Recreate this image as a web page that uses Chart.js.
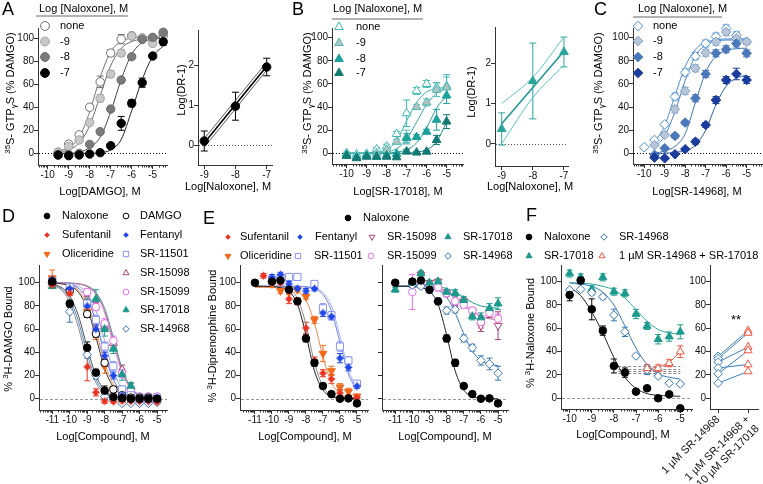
<!DOCTYPE html>
<html>
<head>
<meta charset="utf-8">
<title>Figure</title>
<script src="https://cdn.jsdelivr.net/npm/chart.js@4.4.1/dist/chart.umd.min.js"></script>
<style>
html, body { margin: 0; padding: 0; background: #fff; }
#wrap { position: relative; width: 763px; height: 484px; overflow: hidden; background: #fff; }
#wrap canvas { position: absolute; left: 0; top: 0; }
</style>
</head>
<body>
<div id="wrap"></div>
<script>
// ================= DATA =================
// shared ticks / labels
const pctTicks = [0, 20, 40, 60, 80, 100];
const drTicks = [0, 1, 2];
const logTicks10 = [-10, -9, -8, -7, -6, -5];
const logTicks11 = [-11, -10, -9, -8, -7, -6, -5];
const naloxTicks = [-9, -8, -7];
const nalLevels = ['none', '-9', '-8', '-7'];
const pairTicks = [0, 1];
const pairCats = ['1 µM SR-14968', ['1 µM SR-14968 +', '10 µM SR-17018']];
const dNamesL = ['Naloxone', 'Sufentanil', 'Oliceridine'];
const dNamesR = ['DAMGO', 'Fentanyl', 'SR-11501', 'SR-15098', 'SR-15099', 'SR-17018', 'SR-14968'];
const eNamesTop = ['Naloxone'];
const eNamesA = ['Sufentanil', 'Fentanyl', 'SR-15098', 'SR-17018'];
const eNamesB = ['Oliceridine', 'SR-11501', 'SR-15099', 'SR-14968'];
const fNames = ['Naloxone', 'SR-14968', 'SR-17018', '1 µM SR-14968 + SR-17018'];

// Panel A : DAMGO +/- naloxone
const aX = [-9.5, -9, -8.5, -8, -7.5, -7, -6.5, -6, -5.5, -5, -4.5];
const aNone = [1, 8, 16, 40, 62, 87, 99, 102, 100, 100, 102];
const aNoneErr = [1.5, 2.5, 2, 2, 5, 3, 4, 2, 2, 2, 3];
const aNal9 = [0.6, 6, 11.6, 26.6, 47.7, 68.8, 87, 101.7, 100, 95.4, 104];
const aNal9Err = [1, 1.5, 2, 2, 3, 3, 3, 2, 2, 2, 2];
const aNal8 = [-1.4, -1, 0, 7.8, 18.8, 38.4, 63.6, 83.8, 98.8, 100.6, 105];
const aNal8Err = [1, 1, 1, 1.5, 2, 2, 2, 2, 2, 2, 2];
const aNal7 = [-1.4, -2, -1.4, -0.6, 0.6, 6.6, 26, 43.4, 61.3, 84.4, 96.8];
const aNal7Err = [1, 1, 1, 1, 1, 2, 6, 3, 4, 2, 3];
const aFitNone = [2, 5, 14, 36, 66, 88, 97, 100, 101, 101, 101];
const aFit9 = [1, 3, 9, 24, 50, 76, 91, 97, 99, 100, 100];
const aFit8 = [0, 0, 1, 5, 14, 36, 64, 86, 96, 99, 100];
const aFit7 = [0, 0, 0, 0, 0.5, 3, 12, 37, 64, 84, 93];
// Panel A inset (Schild)
const aInX = [-9, -8, -7];
const aInY = [0.1, 0.97, 1.95];
const aInErr = [0.25, 0.35, 0.22];
const aInLX = [-9, -7];
const aInMid = [0.05, 1.97];
const aInHi = [0.16, 2.07];
const aInLo = [-0.06, 1.87];

// Panel B : SR-17018 +/- naloxone
const bX = [-10, -9.5, -9, -8.5, -8, -7.5, -7, -6.5, -6, -5.5, -5];
const bNone = [0, -1, -0.5, 3.5, 5.8, 16.7, 34.6, 54, 60, 57, 58];
const bNoneErr = [1, 1, 1, 1.5, 2, 2, 11.5, 3, 3, 4, 10];
const bNal9 = [-1.4, -3, -2, 0, 3, 10, 14, 40, 44, 55, 57];
const bNal9Err = [1, 1, 1, 1, 1, 2, 6, 2, 3, 6, 9];
const bNal8 = [-1.4, -3.5, -2.3, -3, -2, -0.5, 13, 14, 18.7, 29, 50];
const bNal8Err = [1, 1, 1, 1, 1, 1, 4, 2, 2, 9, 7];
const bNal7 = [-2.3, -4.3, -3, -3, -3, -3.5, 1.5, 0.6, 1.4, 11.5, 27.4];
const bNal7Err = [1, 1, 1, 1, 1, 1, 2, 1, 1, 4, 6];
const bFitNone = [0, 0, 0.2, 1, 3, 11, 28, 44, 53, 56, 57];
const bFit9 = [0, 0, 0, 0.3, 1, 4, 12, 27, 42, 52, 56];
const bFit8 = [0, 0, 0, 0, 0, 1, 3, 9, 22, 39, 50];
const bFit7 = [0, 0, 0, 0, 0, 0, 0, 1, 3, 10, 27];
// Panel B inset
const bInX = [-9, -8, -7];
const bInY = [0.37, 1.56, 2.28];
const bInErr = [0.4, 0.94, 0.37];
const bInMid = [0.5, 1.4, 2.3];
const bInHi = [1.0, 1.65, 2.65];
const bInLo = [0.0, 1.15, 1.95];

// Panel C : SR-14968 +/- naloxone
const cX = [-10, -9.5, -9, -8.5, -8, -7.5, -7, -6.5, -6, -5.5, -5];
const cNone = [5.2, 11.5, 25, 49, 70, 84, 95, 101, 108, 102, 96.5];
const cNoneErr = [1, 1, 1.5, 3, 3, 3, 3, 3, 3, 3, 2];
const cNal9 = [null, 7, 16, 38, 54, 73.5, 87, 96.5, 105, 99.4, 96.5];
const cNal9Err = [0, 1, 1.5, 3, 3, 3, 3, 3, 3, 3, 2];
const cNal8 = [null, -1.4, 4.3, 15, 26.5, 47.6, 68.6, 86.5, 90, 95, 86.5];
const cNal8Err = [0, 1, 1, 2, 2, 3, 3, 3, 3, 3, 3];
const cNal7 = [null, -3.7, -4.3, -0.9, 3.5, 10, 24.5, 46, 63.4, 68.6, 63.4];
const cNal7Err = [0, 1, 1, 1, 1, 2, 2, 3, 3, 5, 3];
const cFitNone = [null, 9, 24, 50, 75, 90, 96, 98, 99, 99, 99];
const cFit9 = [null, 5, 15, 36, 63, 84, 94, 97, 98, 98, 98];
const cFit8 = [null, 0, 2, 6, 17, 44, 70, 84, 89, 90.5, 91];
const cFit7 = [null, 0, 0, 1, 2, 7, 20, 42, 58, 65, 67.5];

// Panel D : 3H-DAMGO binding
const dX = [-11, -10, -9, -8.5, -8, -7.5, -7, -6.5, -6, -5.5, -5];
const dNal = [101, 82, 44, 22.5, 7, 1.5, 0.5, 0, 0, 0, 0];
const dNalErr = [3, 3, 5, 3, 4, 1, 1, 1, 1, 1, 1];
const dSuf = [98, 91, 27.5, 5.5, -2, -2.5, -2, -2, -2, -2, -3];
const dSufErr = [3, 2, 12, 3, 2, 1, 1, 1, 1, 1, 1];
const dOli = [104, 92, 75, 55, 28, 8, 0, -1, -1, 0, -1];
const dOliErr = [7, 3, 3, 4, 6, 3, 2, 1, 1, 1, 1];
const dDam = [100, 93, 73, 56, 31, 8, 3, 1, 1, 1, 0];
const dDamErr = [2, 2, 3, 3, 3, 2, 1, 1, 1, 1, 1];
const dFen = [103, 95, 80, 60, 37, 20, 3, -1, -2, -2, -2];
const dFenErr = [2, 2, 3, 3, 3, 3, 2, 1, 1, 1, 1];
const d11501 = [102, 96, 82, 68, 45, 28, 8, 3, 1, 1, 1];
const d11501Err = [2, 2, 3, 4, 4, 4, 3, 2, 1, 1, 1];
const d15098 = [100, 96, 85, 80, 62, 48, 25, 10, 1, 0, 0];
const d15098Err = [2, 2, 3, 3, 4, 4, 4, 3, 2, 1, 1];
const d15099 = [100, 95, 92, 79, 65, 50, 22, 7, 2, 2, 2];
const d15099Err = [2, 2, 3, 3, 4, 4, 4, 3, 2, 1, 1];
const d17018 = [97, 95, 83, 86, 60, 43, 21, 11, 0, 1, 0];
const d17018Err = [2, 2, 3, 8, 6, 4, 5, 3, 2, 1, 1];
const d14968 = [100, 75, 38, 20, 2, -1, -4, -4, -4, -4, -3];
const d14968Err = [2, 9, 3, 3, 2, 1, 1, 1, 1, 1, 1];
const dFitX = [-11, -10.5, -10, -9.5, -9, -8.5, -8, -7.5, -7, -6.5, -6, -5.5, -5];
const dFitNal = [98.8, 96.2, 88.8, 71.5, 44.3, 20, 7.4, 2.5, 0.8, 0.3, 0.1, 0, 0];
const dFitSuf = [98, 94, 83.4, 61.3, 33.4, 13.7, 4.8, 1.6, 0.5, 0.2, 0, 0, 0];
const dFit14968 = [98.8, 95, 86.3, 66.6, 38.7, 16.6, 5.9, 2, 0.6, 0.2, 0, 0, 0];
const dFitDam = [99.7, 99.1, 97.3, 91.8, 78, 53, 26, 10, 3.4, 1.1, 0.4, 0.1, 0];
const dFitOli = [99.8, 99.3, 97.8, 93.4, 81.7, 58.5, 31, 12.4, 4.3, 1.4, 0.4, 0.1, 0];
const dFitFen = [99.8, 99.5, 98.4, 95.2, 86.3, 66.6, 38.7, 16.6, 5.9, 2, 0.6, 0.2, 0];
const dFit11501 = [99.9, 99.7, 99, 96.9, 90.9, 76, 50, 24, 9.1, 3.1, 1, 0.3, 0.1];
const dFit15098 = [100, 99.9, 99.7, 99, 96.9, 90.9, 76, 50, 24, 9.1, 3.1, 1, 0.3];
const dFit15099 = [100, 99.9, 99.6, 98.9, 96.6, 89.9, 73.8, 47, 22, 8.2, 2.7, 0.9, 0.3];
const dFit17018 = [100, 99.9, 99.7, 99.1, 97.3, 91.8, 78, 53, 26, 10, 3.4, 1.1, 0.4];

// Panel E : 3H-diprenorphine binding
const eX = [-11, -10.5, -10, -9.5, -9, -8.5, -8, -7.5, -7, -6.5, -6, -5.5, -5];
const eNal = [100, null, 101, 102, 94, 84, 52, 31, 11, 4, 0, 0.3, -4];
const eNalErr = [2, 0, 2, 2, 2, 2, 3, 3, 2, 1, 1, 1, 2];
const eSuf = [null, 106, 101, 100, 86, 84, 61, 33, 22, 17, 5, 1, 1];
const eSufErr = [0, 2, 2, 2, 4, 3, 5, 3, 3, 4, 3, 2, 2];
const eOli = [null, null, 99, 93, 92, 94, 88, 68, 39, 24, 10, 6, 2];
const eOliErr = [0, 0, 2, 2, 2, 2, 2, 3, 7, 4, 3, 3, 2];
const eFen = [null, null, 105, 107, 99, 95, 93, 95, 74, 71, 35, 27, 11];
const eFenErr = [0, 0, 2, 2, 2, 2, 2, 2, 3, 3, 4, 3, 2];
const e11501 = [null, null, 102, 104, 105, 105, null, 99, 78, 72, 45, 33, 13];
const e11501Err = [0, 0, 2, 2, 2, 2, 0, 2, 4, 3, 4, 3, 2];
const eFitNal = [97, 96.9, 96.7, 95.8, 92.6, 81.5, 55, 24, 7.5, 2, 0.5, 0.1, 0];
const eFitSuf = [97, 96.9, 96.8, 96.3, 94.2, 86.5, 64, 31, 10.5, 3, 0.8, 0.2, 0];
const eFitOli = [96, 96, 95.9, 95.7, 95, 92.6, 84.9, 65.3, 36.1, 13.9, 4.4, 1.3, 0.4];
const eFitFen = [97, 97, 97, 97, 96.9, 96.8, 96.4, 94.9, 89.9, 75.7, 48.5, 21.3, 7.1];
const eFit11501 = [97, 97, 97, 97, 97, 96.9, 96.7, 95.6, 91.5, 80, 54, 25, 8.7];
const eR14968 = [null, null, 98, 97, 94, 84, 76, 77, 52, 44, 33, 30, 22];
const eR14968Err = [0, 0, 2, 2, 3, 3, 3, 3, 3, 3, 4, 5, 6];
const eR17018 = [94, null, 100, 108, 100, 101, 92, 91, 85, 71, 70, 78, 82];
const eR17018Err = [2, 0, 2, 2, 2, 2, 2, 3, 3, 3, 4, 4, 5];
const eR15098 = [null, null, 98, 107, 100, 101, 91, 82, 84, 75, 63, 74, 63];
const eR15098Err = [0, 0, 2, 3, 2, 2, 3, 3, 3, 3, 5, 4, 12];
const eR15099 = [null, null, 92, 98, 98, 96, 91, 84, 81, 76, 66, 74, 69];
const eR15099Err = [0, 0, 15, 3, 3, 3, 3, 3, 3, 3, 5, 4, 4];
const eRFit14968 = [97, 97, 97, 96.8, 96, 93.8, 87.6, 74, 56, 41, 33, 29.8, 28.6];
const eRFit17018 = [97, 97, 97, 97, 96.8, 96.5, 95, 92, 87.5, 83, 80, 78.7, 78];
const eRFit15098 = [97, 97, 97, 97, 96.5, 95.5, 93, 88, 81, 75, 71, 69, 68];
const eRFit15099 = [97, 97, 97, 96.8, 96.4, 95.2, 92.5, 87.8, 81.6, 76, 72.5, 70.8, 70];

// Panel F : 3H-naloxone binding
const fX = [-10, -9.5, -9, -8.5, -8, -7.5, -7, -6.5, -6, -5.5, -5];
const fNal = [88.6, 101, 76.3, 58, 27.7, 22, 5.7, 8.6, 0, 3.4, -8.6];
const fNalErr = [5, 3, 9, 4, 6, 4, 2, 2, 1, 1, 1];
const f14968 = [93, 93.4, 90.6, 87, 71.4, 57, 36.3, 24.3, 19, 12.9, 12.3];
const f14968Err = [1, 1, 2, 2, 5, 4, 1, 4, 1, 1, 1];
const f17018 = [107, 103.7, 93.4, 103.7, 91.4, 90, 72.3, 62, 50.6, 52.9, 57];
const f17018Err = [3, 3, 3, 3, 3, 3, 4, 3, 4, 4, 6];
const fCombo = [null, null, null, null, null, null, null, 25.7, 25.7, 30, 40];
const fComboErr = [0, 0, 0, 0, 0, 0, 0, 3, 3, 3, 5];
const fFitNal = [95, 88, 74, 56, 35, 18, 8.5, 4, 2.5, 2, 1.7];
const fFit14968 = [99, 98, 96, 91, 80, 62, 43, 29, 21, 18, 16.5];
const fFit17018 = [99, 98.7, 98, 96, 93, 86, 76, 66, 59, 56, 55];
const fFitCombo = [null, null, null, null, null, null, null, 25, 27, 31, 40];
const fRefLevels = [27.7, 25, 23.4, 21.4];
const fRefRange = [-7.8, -5];
const fPairX = [0, 1];
const fPairA = [36, 34, 31, 26, 21, 13];
const fPairB = [58, 56, 44, 29, 41, 23];

// ================= DRAWING =================
const wrap = document.getElementById('wrap');
const FONT = '"Liberation Sans", Arial, Helvetica, sans-serif';
const AXC = '#333';
Chart.defaults.font.family = FONT;
Chart.defaults.color = '#111';

function starImg(color, r) {
  const s = Math.ceil(2 * r + 2), c = document.createElement('canvas');
  c.width = s; c.height = s;
  const g = c.getContext('2d'), m = s / 2;
  g.fillStyle = color; g.beginPath();
  for (let i = 0; i < 8; i++) {
    const a = -Math.PI / 2 + i * Math.PI / 4;
    const rr = i % 2 ? r * 0.55 : r;
    g.lineTo(m + rr * Math.cos(a), m + rr * Math.sin(a));
  }
  g.closePath(); g.fill();
  g.beginPath(); g.arc(m, m, r * 0.62, 0, Math.PI * 2); g.fill();
  return c;
}

const COL = {
  nal: '#000', suf: '#ea3323', oli: '#f26a1b', fen: '#2047e8', s11501: '#8793f0',
  s15098: '#a3466f', s15099: '#ea6ee6', s17018: '#1b9a8d', s14968: '#3777b6', combo: '#f2553f'
};
const ST = {
  a0: {style: 'circle', r: 4.2, fill: '#fff', stroke: '#6e6e6e'},
  a9: {style: 'circle', r: 4.2, fill: '#c8c8c8', stroke: '#a0a0a0'},
  a8: {style: 'circle', r: 4.2, fill: '#7a7a7a', stroke: '#6a6a6a'},
  a7: {style: 'circle', r: 4.2, fill: '#000', stroke: '#000'},
  b0: {style: 'triangle', r: 5, fill: '#fff', stroke: '#3bb8b2'},
  b9: {style: 'triangle', r: 5, fill: '#b5c4c3', stroke: '#4fb8b2'},
  b8: {style: 'triangle', r: 5, fill: '#1ba29a', stroke: '#1ba29a'},
  b7: {style: 'triangle', r: 5, fill: '#137a74', stroke: '#137a74'},
  bIn: {style: 'triangle', r: 5, fill: '#2aa59e', stroke: '#2aa59e'},
  c0: {style: 'rectRot', r: 4.8, fill: '#fff', stroke: '#4b8fd8'},
  c9: {style: 'rectRot', r: 4.8, fill: '#b9c6d8', stroke: '#7f9fc8'},
  c8: {style: 'rectRot', r: 4.8, fill: '#4a78ba', stroke: '#4a78ba'},
  c7: {style: 'rectRot', r: 4.8, fill: '#1b3c9c', stroke: '#1b3c9c'},
  aIn: {style: 'circle', r: 4.2, fill: '#000', stroke: '#000'},
  nal: {style: 'circle', r: 3.8, fill: COL.nal, stroke: COL.nal},
  suf: {img: starImg(COL.suf, 4.2), limg: starImg(COL.suf, 3), stroke: COL.suf},
  oli: {style: 'triangle', r: 4.5, rot: 180, fill: COL.oli, stroke: COL.oli},
  dam: {style: 'circle', r: 3.8, fill: '#fff', stroke: '#000'},
  fen: {img: starImg(COL.fen, 4.2), limg: starImg(COL.fen, 3), stroke: COL.fen},
  s11501: {style: 'rect', r: 5, fill: '#fff', stroke: COL.s11501},
  s15098u: {style: 'triangle', r: 4.6, fill: '#fff', stroke: COL.s15098},
  s15098d: {style: 'triangle', r: 4.6, rot: 180, fill: '#fff', stroke: COL.s15098},
  s15099: {style: 'circle', r: 3.8, fill: '#fff', stroke: COL.s15099},
  s17018: {style: 'triangle', r: 4.6, fill: COL.s17018, stroke: COL.s17018},
  s14968: {style: 'rectRot', r: 4.3, fill: '#fff', stroke: COL.s14968},
  combo: {style: 'triangle', r: 4.6, fill: '#fff', stroke: COL.combo},
  pairA: {style: 'rectRot', r: 4.3, fill: '#fff', stroke: '#3b7fc4'},
  pairB: {style: 'triangle', r: 4.6, fill: '#fff', stroke: COL.combo}
};

function drawMark(ctx, st, x, y, k) {
  ctx.save();
  ctx.translate(x, y);
  if (st.img) {
    const im = st.limg || st.img;
    ctx.drawImage(im, -im.width / 2, -im.height / 2);
    ctx.restore(); return;
  }
  const r = st.r * (k || 1);
  ctx.rotate((st.rot || 0) * Math.PI / 180);
  ctx.fillStyle = st.fill; ctx.strokeStyle = st.stroke; ctx.lineWidth = 1;
  ctx.beginPath();
  if (st.style === 'circle') ctx.arc(0, 0, r, 0, Math.PI * 2);
  else if (st.style === 'triangle') {
    for (let i = 0; i < 3; i++) { const a = -Math.PI / 2 + i * 2 * Math.PI / 3; ctx.lineTo(r * Math.cos(a), r * Math.sin(a)); }
    ctx.closePath();
  } else if (st.style === 'rect') { const h = r * Math.SQRT1_2; ctx.rect(-h, -h, 2 * h, 2 * h); }
  else if (st.style === 'rectRot') { ctx.moveTo(0, -r); ctx.lineTo(r, 0); ctx.lineTo(0, r); ctx.lineTo(-r, 0); ctx.closePath(); }
  ctx.fill(); ctx.stroke();
  ctx.restore();
}

function parseRich(s) {
  const out = []; let mode = null, buf = '';
  for (const ch of s) {
    if (ch === '^' || ch === '_') {
      if (buf) out.push([buf, mode]); buf = '';
      const m = ch === '^' ? 'sup' : 'sub';
      mode = mode === m ? null : m;
    } else buf += ch;
  }
  if (buf) out.push([buf, mode]);
  return out;
}
function drawRich(ctx, t) {
  const size = t.size || 11;
  ctx.save();
  ctx.translate(t.x, t.y);
  if (t.rot) ctx.rotate(t.rot * Math.PI / 180);
  const parts = parseRich(t.s).map(([txt, m]) => {
    const fs = m ? size * 0.72 : size;
    ctx.font = fs + 'px ' + FONT;
    return {txt, fs, w: ctx.measureText(txt).width, dy: m === 'sup' ? -size * 0.3 : (m === 'sub' ? size * 0.25 : 0)};
  });
  const total = parts.reduce((a, p) => a + p.w, 0);
  let cx = t.align === 'center' ? -total / 2 : (t.align === 'right' ? -total : 0);
  ctx.textBaseline = 'middle'; ctx.textAlign = 'left'; ctx.fillStyle = t.color || '#000';
  for (const p of parts) { ctx.font = p.fs + 'px ' + FONT; ctx.fillText(p.txt, cx, p.dy); cx += p.w; }
  ctx.restore();
}

function decor(d) {
  return {
    id: 'decor',
    beforeDatasetsDraw(chart) {
      const ctx = chart.ctx, xs = chart.scales.x, ys = chart.scales.y, ca = chart.chartArea;
      ctx.save();
      (d.hl || []).forEach(h => {
        const y = Math.round(ys.getPixelForValue(h.y)) + 0.5;
        const x0 = h.x0 == null ? ca.left + 1 : xs.getPixelForValue(h.x0);
        const x1 = h.x1 == null ? ca.right : xs.getPixelForValue(h.x1);
        ctx.beginPath(); ctx.setLineDash(h.dash || []); ctx.strokeStyle = h.color || '#000'; ctx.lineWidth = h.w || 1;
        ctx.moveTo(x0, y); ctx.lineTo(x1, y); ctx.stroke();
      });
      ctx.setLineDash([]);
      const cw = d.cap || 3;
      chart.data.datasets.forEach((ds, i) => {
        if (!ds.errs) return;
        const meta = chart.getDatasetMeta(i);
        ctx.strokeStyle = ds.errColor; ctx.lineWidth = 1;
        ds.data.forEach((p, j) => {
          const e = ds.errs[j];
          if (!e || p.y == null || !meta.data[j]) return;
          const x = meta.data[j].x;
          const y0 = ys.getPixelForValue(p.y - e), y1 = ys.getPixelForValue(p.y + e);
          ctx.beginPath();
          ctx.moveTo(x, y0); ctx.lineTo(x, y1);
          ctx.moveTo(x - cw, y1); ctx.lineTo(x + cw, y1);
          ctx.moveTo(x - cw, y0); ctx.lineTo(x + cw, y0);
          ctx.stroke();
        });
      });
      ctx.restore();
    },
    afterDraw(chart) {
      const ctx = chart.ctx, xs = chart.scales.x, ca = chart.chartArea;
      ctx.save();
      if (d.minor) {
        ctx.strokeStyle = AXC; ctx.lineWidth = 1; ctx.beginPath();
        for (let n = Math.floor(xs.min) - 1; n <= Math.ceil(xs.max); n++) {
          for (let k = 2; k <= 9; k++) {
            const v = n + Math.log10(k);
            if (v <= xs.min || v >= xs.max) continue;
            const x = Math.round(xs.getPixelForValue(v)) + 0.5;
            ctx.moveTo(x, ca.bottom); ctx.lineTo(x, ca.bottom + 2.5);
          }
        }
        ctx.stroke();
      }
      (d.lines || []).forEach(l => {
        ctx.beginPath(); ctx.strokeStyle = l.color || '#999'; ctx.lineWidth = l.w || 1;
        ctx.moveTo(l.x0, l.y0); ctx.lineTo(l.x1, l.y1); ctx.stroke();
      });
      (d.marks || []).forEach(m => drawMark(ctx, m.st, m.x, m.y, m.k));
      (d.texts || []).forEach(t => drawRich(ctx, t));
      ctx.restore();
    }
  };
}

function ax(o, isX, size) {
  return {
    type: 'linear', position: isX ? 'bottom' : 'left',
    min: o.min, max: o.max,
    afterBuildTicks: s => { s.ticks = o.ticks.map(v => ({value: v})); },
    afterFit: s => {
      if (isX) s.height = size; else s.width = size;
      s.paddingLeft = 0; s.paddingRight = 0; s.paddingTop = 0; s.paddingBottom = 0;
    },
    grid: {drawOnChartArea: false, drawTicks: true, tickLength: 4, color: AXC, lineWidth: 1},
    border: {display: true, color: AXC, width: 1},
    ticks: {
      autoSkip: false, padding: 0, color: '#111', font: {family: FONT, size: o.fs || 10},
      minRotation: o.rot || 0, maxRotation: o.rot || 0,
      callback: (v, i) => o.labels ? o.labels[i] : (o.hide ? '' : String(v))
    }
  };
}

function P(xs, ys, st, errs) {
  return {
    data: xs.map((x, i) => ({x, y: ys[i]})),
    showLine: false,
    pointStyle: st.img || st.style,
    pointRadius: st.r || 4, pointHoverRadius: st.r || 4,
    pointRotation: st.rot || 0,
    pointBackgroundColor: st.fill || st.stroke, pointBorderColor: st.stroke,
    pointBorderWidth: 1,
    errs: errs || null, errColor: st.stroke,
    clip: false
  };
}
function L(xs, ys, color, w, smooth) {
  const data = [];
  xs.forEach((x, i) => { if (ys[i] != null) data.push({x, y: ys[i]}); });
  return {
    data, showLine: true, pointRadius: 0, pointHoverRadius: 0,
    borderColor: color, borderWidth: w || 1,
    cubicInterpolationMode: smooth === false ? 'default' : 'monotone',
    tension: smooth === false ? 0 : 0.4, fill: false, clip: false
  };
}

function mk(box, xo, yo, datasets, d) {
  const c = document.createElement('canvas');
  c.width = 763; c.height = 484; c.style.width = '763px'; c.style.height = '484px';
  wrap.appendChild(c);
  const WY = 30, HX = box.HX || 22;
  return new Chart(c.getContext('2d'), {
    type: 'scatter',
    data: {datasets},
    options: {
      responsive: false, maintainAspectRatio: false, animation: false, devicePixelRatio: 1, events: [],
      layout: {autoPadding: false, padding: {left: box.L - WY, right: 763 - box.R, top: box.T, bottom: 484 - box.B - HX}},
      plugins: {legend: {display: false}, tooltip: {enabled: false}, title: {display: false}},
      scales: {x: ax(xo, true, HX), y: ax(yo, false, WY)}
    },
    plugins: [decor(d || {})]
  });
}

const DOT0 = {y: 0, dash: [1, 2], color: '#000'};
const DASH0 = {y: 0, dash: [3, 2], color: '#999'};
const GTP = '^35^S- GTP_γ_S (% DAMGO)';

// legend helper
function legendRows(names, styles, mx, tx, rows, size, k) {
  const marks = [], texts = [];
  names.forEach((n, i) => {
    marks.push({st: styles[i], x: mx, y: rows[i], k});
    texts.push({s: n, x: tx, y: rows[i], size});
  });
  return {marks, texts};
}

// ---------- Panel A ----------
const legA = legendRows(nalLevels, [ST.a0, ST.a9, ST.a8, ST.a7], 45, 60, [26, 41.5, 57, 73], 11, 1.05);
mk({L: 38, R: 167, T: 28, B: 165}, {min: -10.46, max: -4.32, ticks: logTicks10}, {min: -10.1, max: 108.7, ticks: pctTicks},
  [P(aX, aNal7, ST.a7, aNal7Err), P(aX, aNal8, ST.a8, aNal8Err), P(aX, aNal9, ST.a9, aNal9Err), P(aX, aNone, ST.a0, aNoneErr),
   L(aX, aFitNone, '#777'), L(aX, aFit9, '#666'), L(aX, aFit8, '#444'), L(aX, aFit7, '#222')],
  {minor: true, cap: 3.5, hl: [DOT0],
   lines: [{x0: 36, y0: 16, x1: 128, y1: 16, color: '#9a9a9a', w: 1.5}],
   marks: legA.marks,
   texts: legA.texts.concat([
     {s: 'A', x: 2, y: 10, size: 18},
     {s: 'Log [Naloxone], M', x: 39, y: 9, size: 11},
     {s: GTP, x: 11, y: 93, size: 11, rot: -90, align: 'center'},
     {s: 'Log[DAMGO], M', x: 100, y: 192, size: 11, align: 'center'}
   ])});

// A inset
mk({L: 198, R: 272, T: 30, B: 165}, {min: -9.2, max: -6.83, ticks: naloxTicks}, {min: -0.5, max: 2.875, ticks: drTicks},
  [P(aInX, aInY, ST.aIn, aInErr), L(aInLX, aInMid, '#000', 1.6, false), L(aInLX, aInHi, '#333', 0.8, false), L(aInLX, aInLo, '#333', 0.8, false)],
  {cap: 3.5, hl: [{y: 0, dash: [1, 2], color: '#555'}],
   texts: [
     {s: 'Log(DR-1)', x: 182, y: 90, size: 11, rot: -90, align: 'center'},
     {s: 'Log[Naloxone], M', x: 228, y: 187, size: 11, align: 'center'}
   ]});

// ---------- Panel B ----------
const legB = legendRows(nalLevels, [ST.b0, ST.b9, ST.b8, ST.b7], 339, 356, [27, 43, 59, 73], 11, 1);
mk({L: 332, R: 463, T: 28, B: 164}, {min: -10.73, max: -4.18, ticks: logTicks10}, {min: -9.3, max: 108.4, ticks: pctTicks},
  [P(bX, bNal7, ST.b7, bNal7Err), P(bX, bNal8, ST.b8, bNal8Err), P(bX, bNal9, ST.b9, bNal9Err), P(bX, bNone, ST.b0, bNoneErr),
   L(bX, bFitNone, '#3bb5af'), L(bX, bFit9, '#36aca6'), L(bX, bFit8, '#21a098'), L(bX, bFit7, '#1a8a84')],
  {minor: true, cap: 3.5, hl: [DOT0],
   lines: [{x0: 332, y0: 19, x1: 423, y1: 19, color: '#9a9a9a', w: 1.5}],
   marks: legB.marks,
   texts: legB.texts.concat([
     {s: 'B', x: 292, y: 10, size: 18},
     {s: 'Log [Naloxone], M', x: 333, y: 9, size: 11},
     {s: GTP, x: 308, y: 93, size: 11, rot: -90, align: 'center'},
     {s: 'Log[SR-17018], M', x: 398, y: 192, size: 11, align: 'center'}
   ])});

// B inset
mk({L: 495, R: 568, T: 27, B: 166}, {min: -9.215, max: -6.87, ticks: naloxTicks}, {min: -0.55, max: 2.9, ticks: drTicks},
  [P(bInX, bInY, ST.bIn, bInErr), L(bInX, bInMid, '#1f9a93', 1.6), L(bInX, bInHi, '#5cc8c2', 1), L(bInX, bInLo, '#5cc8c2', 1)],
  {cap: 3.5, hl: [{y: 0, dash: [1, 2], color: '#555'}],
   texts: [
     {s: 'Log(DR-1)', x: 472, y: 92, size: 11, rot: -90, align: 'center'},
     {s: 'Log[Naloxone], M', x: 530, y: 187, size: 11, align: 'center'}
   ]});

// ---------- Panel C ----------
const legC = legendRows(nalLevels, [ST.c0, ST.c9, ST.c8, ST.c7], 638, 653, [26, 41, 57, 73], 11, 1);
mk({L: 633, R: 762, T: 28, B: 164}, {min: -10.55, max: -4.25, ticks: logTicks10}, {min: -9.3, max: 108.4, ticks: pctTicks},
  [P(cX, cNal7, ST.c7, cNal7Err), P(cX, cNal8, ST.c8, cNal8Err), P(cX, cNal9, ST.c9, cNal9Err), P(cX, cNone, ST.c0, cNoneErr),
   L(cX, cFitNone, '#4a8cd0'), L(cX, cFit9, '#4582c4'), L(cX, cFit8, '#3c72b4'), L(cX, cFit7, '#2f5fa8')],
  {minor: true, cap: 3.5, hl: [DOT0],
   lines: [{x0: 633, y0: 17, x1: 722, y1: 17, color: '#9a9a9a', w: 1.5}],
   marks: legC.marks,
   texts: legC.texts.concat([
     {s: 'C', x: 594, y: 10, size: 18},
     {s: 'Log [Naloxone], M', x: 638, y: 9, size: 11},
     {s: GTP, x: 599, y: 93, size: 11, rot: -90, align: 'center'},
     {s: 'Log[SR-14968], M', x: 697, y: 192, size: 11, align: 'center'}
   ])});

// ---------- Panel D ----------
const dRows = [216, 235, 254, 273, 292, 310, 329];
const legD1 = legendRows(dNamesL, [ST.nal, ST.suf, ST.oli], 47, 62, dRows, 11, 0.75);
const legD2 = legendRows(dNamesR, [ST.dam, ST.fen, ST.s11501, ST.s15098u, ST.s15099, ST.s17018, ST.s14968], 126, 140, dRows, 11, 0.75);
mk({L: 39, R: 167, T: 265, B: 410}, {min: -11.76, max: -4.43, ticks: logTicks11}, {min: -9.7, max: 115.3, ticks: pctTicks},
  [P(dX, dNal, ST.nal, dNalErr), P(dX, dSuf, ST.suf, dSufErr), P(dX, dFen, ST.fen, dFenErr), P(dX, dDam, ST.dam, dDamErr),
   P(dX, dOli, ST.oli, dOliErr), P(dX, d14968, ST.s14968, d14968Err), P(dX, d11501, ST.s11501, d11501Err),
   P(dX, d17018, ST.s17018, d17018Err), P(dX, d15099, ST.s15099, d15099Err), P(dX, d15098, ST.s15098u, d15098Err),
   L(dFitX, dFitNal, '#555'), L(dFitX, dFitSuf, '#888'), L(dFitX, dFit14968, '#5b8fc4'),
   L(dFitX, dFitDam, '#333'), L(dFitX, dFitOli, '#f08a4a'), L(dFitX, dFitFen, '#4a6ae8'), L(dFitX, dFit11501, '#9aa4f0'),
   L(dFitX, dFit15098, '#b36a8c'), L(dFitX, dFit15099, '#ea8ee6'), L(dFitX, dFit17018, '#3aa89c')],
  {minor: true, cap: 3, hl: [DASH0],
   marks: legD1.marks.concat(legD2.marks),
   texts: legD1.texts.concat(legD2.texts, [
     {s: 'D', x: 2, y: 217, size: 18},
     {s: '% ^3^H-DAMGO Bound', x: 9, y: 339, size: 11, rot: -90, align: 'center'},
     {s: 'Log[Compound], M', x: 103, y: 437, size: 11, align: 'center'}
   ])});

// ---------- Panel E ----------
const legE0 = legendRows(eNamesTop, [ST.nal], 348, 363, [218], 11, 0.75);
const eRowA = 237, eRowB = 256;
const legEA = {marks: [], texts: []};
[[228, 240], [300, 315], [372, 387], [448, 463]].forEach((p, i) => {
  legEA.marks.push({st: [ST.suf, ST.fen, ST.s15098d, ST.s17018][i], x: p[0], y: eRowA, k: 0.75});
  legEA.texts.push({s: eNamesA[i], x: p[1], y: eRowA, size: 11});
});
[[228, 240], [298, 314], [371, 387], [448, 463]].forEach((p, i) => {
  legEA.marks.push({st: [ST.oli, ST.s11501, ST.s15099, ST.s14968][i], x: p[0], y: eRowB, k: 0.75});
  legEA.texts.push({s: eNamesB[i], x: p[1], y: eRowB, size: 11});
});
mk({L: 240, R: 368, T: 265, B: 410}, {min: -11.88, max: -4.35, ticks: logTicks11}, {min: -9.7, max: 115.3, ticks: pctTicks},
  [P(eX, eNal, ST.nal, eNalErr), P(eX, eSuf, ST.suf, eSufErr), P(eX, eFen, ST.fen, eFenErr), P(eX, eOli, ST.oli, eOliErr),
   P(eX, e11501, ST.s11501, e11501Err),
   L(eX, eFitNal, '#222'), L(eX, eFitSuf, '#888'), L(eX, eFitOli, '#f0874a'), L(eX, eFitFen, '#6a84ea'), L(eX, eFit11501, '#a9b2f2')],
  {minor: true, cap: 3, hl: [DASH0],
   marks: legE0.marks.concat(legEA.marks),
   texts: legE0.texts.concat(legEA.texts, [
     {s: 'E', x: 203, y: 219, size: 18},
     {s: '% ^3^H-Diprenorphine Bound', x: 213, y: 336, size: 11, rot: -90, align: 'center'},
     {s: 'Log[Compound], M', x: 305, y: 437, size: 11, align: 'center'}
   ])});
mk({L: 382, R: 508, T: 265, B: 410}, {min: -11.77, max: -4.42, ticks: logTicks11}, {min: -9.7, max: 115.3, ticks: pctTicks, hide: true},
  [P(eX, eNal, ST.nal, eNalErr), P(eX, eR17018, ST.s17018, eR17018Err), P(eX, eR14968, ST.s14968, eR14968Err),
   P(eX, eR15099, ST.s15099, eR15099Err), P(eX, eR15098, ST.s15098d, eR15098Err),
   L(eX, eFitNal, '#222'), L(eX, eRFit14968, '#3777b6'), L(eX, eRFit17018, '#1b9a8d'), L(eX, eRFit15098, '#b36a8c'), L(eX, eRFit15099, '#ea8ee6')],
  {minor: true, cap: 3, hl: [DASH0],
   texts: [{s: 'Log[Compound], M', x: 445, y: 437, size: 11, align: 'center'}]});

// ---------- Panel F ----------
const legF = {marks: [], texts: []};
[[529, 544, 237], [604, 619, 237], [529, 544, 256], [602, 619, 256]].forEach((p, i) => {
  legF.marks.push({st: [ST.nal, ST.s14968, ST.s17018, ST.combo][i], x: p[0], y: p[2], k: 0.75});
  legF.texts.push({s: fNames[i], x: p[1], y: p[2], size: 11});
});
mk({L: 561, R: 692, T: 265, B: 409}, {min: -10.39, max: -4.47, ticks: logTicks10}, {min: -9.2, max: 114.3, ticks: pctTicks},
  [P(fX, fNal, ST.nal, fNalErr), P(fX, fCombo, ST.combo, fComboErr), P(fX, f14968, ST.s14968, f14968Err), P(fX, f17018, ST.s17018, f17018Err),
   L(fX, fFitNal, '#222'), L(fX, fFit14968, '#3777b6'), L(fX, fFit17018, '#2aa89a'), L(fX, fFitCombo, '#f2553f')],
  {minor: true, cap: 3, hl: [DASH0].concat(fRefLevels.map(v => ({y: v, x0: fRefRange[0], x1: fRefRange[1], dash: [3, 2], color: '#888'}))),
   marks: legF.marks,
   texts: legF.texts.concat([
     {s: 'F', x: 526, y: 216, size: 18},
     {s: '% ^3^H-Naloxone Bound', x: 531, y: 333, size: 11, rot: -90, align: 'center'},
     {s: 'Log[Compound], M', x: 623, y: 435, size: 11, align: 'center'}
   ])});

// F right (paired)
const pairSets = [P([0, 0, 0, 0, 0, 0], fPairA, ST.pairA), P([1, 1, 1, 1, 1, 1], fPairB, ST.pairB)];
fPairA.forEach((a, i) => pairSets.push(L(fPairX, [a, fPairB[i]], '#3b7fc4', 1, false)));
mk({L: 710, R: 758, T: 265, B: 409, HX: 75}, {min: -0.27, max: 1.33, ticks: pairTicks, labels: pairCats, rot: 45, fs: 11}, {min: -9.2, max: 114.3, ticks: pctTicks},
  pairSets,
  {texts: [{s: '**', x: 736, y: 320, size: 13, align: 'center'}]});
</script>
</body>
</html>
